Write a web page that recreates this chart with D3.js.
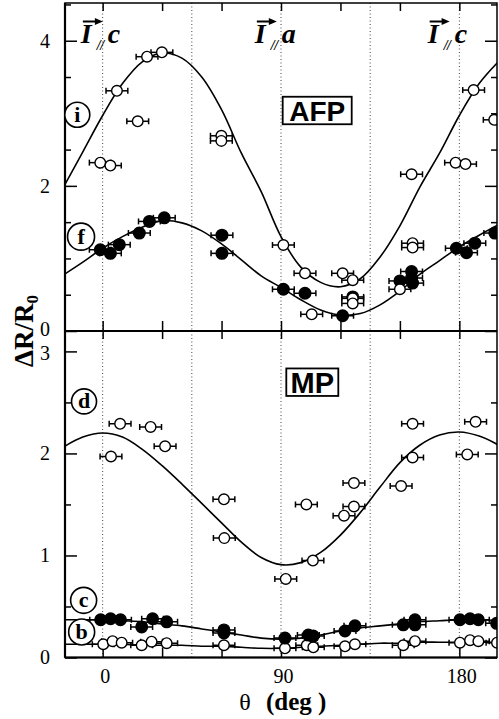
<!DOCTYPE html>
<html><head><meta charset="utf-8">
<script src="https://cdn.jsdelivr.net/npm/d3@7"></script>
<style>
html,body{margin:0;padding:0;background:#fff;}
svg{display:block;}
</style>
</head><body>
<svg id="chart" width="499" height="719"></svg>
<script>
// ---------------- data ----------------
// AFP panel, series (i) open circles
const iTheta = [22.4, 29.9, 7.2, 17.7, -1.2, 3.9, 59.9, 59.9, 187.2, 197.6, 178.1, 183.1, 155.9, 91.2, 156.4, 156.4, 102.1, 121.1, 126.2, 126.2, 126.2, 105.5, 150];
const iValue = [3.78, 3.84, 3.31, 2.89, 2.32, 2.28, 2.69, 2.62, 3.32, 2.91, 2.32, 2.30, 2.16, 1.185, 1.21, 1.15, 0.795, 0.795, 0.70, 0.45, 0.38, 0.23, 0.575];
// AFP panel, series (f) filled circles
const fTheta = [-1.2, 3.9, 8.4, 18.5, 23.6, 31.1, 60.2, 60.2, 91.2, 102.1, 121.1, 126.2, 150, 155.9, 155.9, 156.4, 178.5, 183.6, 187.8, 197.9];
const fValue = [1.12, 1.07, 1.19, 1.35, 1.51, 1.56, 1.32, 1.07, 0.575, 0.52, 0.21, 0.47, 0.69, 0.82, 0.73, 0.66, 1.14, 1.08, 1.21, 1.35];
// MP panel, series (d) open circles
const dTheta = [8.8, 4.2, 24.2, 31.5, 61.2, 61.4, 92.4, 106.1, 102.8, 126.8, 126.8, 121.8, 150.6, 156.4, 156.4, 184, 188.2];
const dValue = [2.29, 1.97, 2.26, 2.07, 1.55, 1.17, 0.77, 0.95, 1.50, 1.71, 1.48, 1.39, 1.68, 2.29, 1.96, 1.99, 2.31];
// MP panel, series (c) filled circles
const cTheta = [-1, 4, 9, 19.7, 25.2, 32.3, 61.2, 61.2, 92, 103.8, 106.3, 122.3, 127.3, 151.7, 157.6, 157.6, 180.3, 185.4, 189.6, 198.8];
const cValue = [0.37, 0.38, 0.37, 0.30, 0.38, 0.35, 0.27, 0.24, 0.19, 0.22, 0.21, 0.26, 0.31, 0.32, 0.37, 0.32, 0.37, 0.38, 0.37, 0.335];
// MP panel, series (b) open circles
const bTheta = [0.3, 5, 9.6, 19.7, 24.7, 32.3, 61.2, 92, 103, 106.3, 122.3, 127.3, 151.7, 157.6, 180.3, 185.4, 189.6, 199];
const bValue = [0.13, 0.16, 0.145, 0.12, 0.155, 0.14, 0.12, 0.09, 0.12, 0.10, 0.11, 0.13, 0.12, 0.16, 0.145, 0.17, 0.16, 0.145];
// angular error (half width, deg)
const thetaErr = 5.5;

// fitted curves
const curveTheta = [-20, -10, 0, 10, 20, 30, 40, 50, 60, 70, 80, 90, 100, 110, 120, 130, 140, 150, 160, 170, 180, 190, 200];
const iCurve = [1.97, 2.47, 2.97, 3.41, 3.71, 3.83, 3.76, 3.50, 3.05, 2.45, 1.92, 1.30, 0.88, 0.67, 0.61, 0.72, 1.02, 1.45, 1.98, 2.45, 2.97, 3.41, 3.72];
const fCurve = [0.77, 0.95, 1.14, 1.30, 1.43, 1.52, 1.49, 1.38, 1.20, 0.98, 0.76, 0.60, 0.43, 0.29, 0.22, 0.24, 0.36, 0.55, 0.78, 0.97, 1.16, 1.32, 1.47];
const dCurve = [2.06, 2.16, 2.20, 2.16, 2.04, 1.88, 1.70, 1.51, 1.32, 1.13, 0.98, 0.91, 0.93, 1.03, 1.20, 1.42, 1.67, 1.91, 2.08, 2.18, 2.21, 2.17, 2.08];
const cCurve = [0.37, 0.37, 0.37, 0.36, 0.35, 0.33, 0.31, 0.28, 0.25, 0.22, 0.19, 0.18, 0.19, 0.22, 0.26, 0.29, 0.31, 0.33, 0.35, 0.36, 0.37, 0.37, 0.36];
const bCurve = [0.13, 0.13, 0.13, 0.13, 0.12, 0.12, 0.12, 0.11, 0.11, 0.10, 0.09, 0.09, 0.10, 0.11, 0.12, 0.13, 0.14, 0.14, 0.15, 0.15, 0.15, 0.15, 0.15];

// ticks
const xTicks = [0, 30, 60, 90, 120, 150, 180];
const xLabelTicks = [0, 90, 180];
const dottedTheta = [0, 45, 90, 135, 180];
const topMajor = [0, 2, 4];
const topMinor = [0.5, 1, 1.5, 2.5, 3, 3.5, 4.5];
const botMajor = [0, 1, 2, 3];
const botMinor = [0.5, 1.5, 2.5];

// labels
const dirLabels = [{theta: -11.0, sub: "c"}, {theta: 76.8, sub: "a"}, {theta: 164.0, sub: "c"}];
const seriesTags = ["i", "f", "d", "c", "b"];

// ---------------- layout ----------------
const L = 65, R = 497, T = 3, M = 331, B = 657.5;
const svg = d3.select("#chart");
const x = d3.scaleLinear().domain([-19, 199]).range([L, R]);
const yTop = d3.scaleLinear().domain([0, 4.52]).range([M, T]);
const yBot = d3.scaleLinear().domain([0, 3.2]).range([B, M]);
const serif = "'Liberation Serif','Times New Roman',serif";
const sans = "'Liberation Sans',Arial,sans-serif";

const defs = svg.append("defs");
defs.append("clipPath").attr("id", "clipTop").append("rect").attr("x", L).attr("y", T).attr("width", R - L).attr("height", M - T);
defs.append("clipPath").attr("id", "clipBot").append("rect").attr("x", L).attr("y", M).attr("width", R - L).attr("height", B - M);

function panel(y, y0, y1, major, minor, labelFmt, labelShift) {
  const g = svg.append("g");
  g.selectAll("line.dot").data(dottedTheta).join("line")
    .attr("x1", d => x(d)).attr("x2", d => x(d)).attr("y1", y0).attr("y2", y1)
    .attr("stroke", "#444").attr("stroke-width", 1).attr("stroke-dasharray", "1,2.5");
  const la = g.append("g").attr("transform", `translate(${L},0)`)
    .call(d3.axisLeft(y).tickValues(major).tickSize(-12).tickPadding(15).tickFormat(labelFmt));
  la.select(".domain").remove();
  la.selectAll("text").attr("font-family", serif).attr("font-size", 20).attr("fill", "#000")
    .attr("transform", d => `translate(0,${labelShift(d)})`);
  la.selectAll("line").attr("stroke-width", 1.5);
  const lm = g.append("g").attr("transform", `translate(${L},0)`)
    .call(d3.axisLeft(y).tickValues(minor).tickSize(-6).tickFormat(""));
  lm.select(".domain").remove();
  lm.selectAll("line").attr("stroke-width", 1.5);
  const ra = g.append("g").attr("transform", `translate(${R},0)`)
    .call(d3.axisRight(y).tickValues(major).tickSize(-12).tickFormat(""));
  ra.select(".domain").remove();
  ra.selectAll("line").attr("stroke-width", 1.5);
  const rm = g.append("g").attr("transform", `translate(${R},0)`)
    .call(d3.axisRight(y).tickValues(minor).tickSize(-6).tickFormat(""));
  rm.select(".domain").remove();
  rm.selectAll("line").attr("stroke-width", 1.5);
  const ta = g.append("g").attr("transform", `translate(0,${y0})`)
    .call(d3.axisTop(x).tickValues(xTicks).tickSize(-8).tickFormat(""));
  ta.select(".domain").remove();
  ta.selectAll("line").attr("stroke-width", 1.5);
  const ba = g.append("g").attr("transform", `translate(0,${y1})`)
    .call(d3.axisBottom(x).tickValues(xTicks).tickSize(-10).tickFormat(""));
  ba.select(".domain").remove();
  ba.selectAll("line").attr("stroke-width", 1.5);
  return g;
}

const gTop = panel(yTop, T, M, topMajor, topMinor, d3.format("d"), d => d === 0 ? -2 : 0);
const gBot = panel(yBot, M, B, botMajor, botMinor, d3.format("d"), d => d === 3 ? 2 : 0);

// x labels
const xl = svg.append("g").attr("transform", `translate(0,${B})`)
  .call(d3.axisBottom(x).tickValues(xLabelTicks).tickSize(0).tickPadding(11).tickFormat(d3.format("d")));
xl.select(".domain").remove();
xl.selectAll("text").attr("font-family", serif).attr("font-size", 20).attr("fill", "#000").attr("dx", 2);

// curves
function drawCurve(g, y, vals, clipId) {
  const line = d3.line().x(d => x(d[0])).y(d => y(d[1])).curve(d3.curveCatmullRom.alpha(0.5));
  g.append("path").datum(curveTheta.map((t, k) => [t, vals[k]]))
    .attr("d", line).attr("fill", "none").attr("stroke", "#000").attr("stroke-width", 1.6)
    .attr("clip-path", `url(#${clipId})`);
}
drawCurve(gTop, yTop, iCurve, "clipTop");
drawCurve(gTop, yTop, fCurve, "clipTop");
drawCurve(gBot, yBot, dCurve, "clipBot");
drawCurve(gBot, yBot, cCurve, "clipBot");
drawCurve(gBot, yBot, bCurve, "clipBot");

// points with horizontal error bars
function drawPoints(g, y, th, vals, filled, clipId) {
  const data = th.map((t, k) => ({t, v: vals[k]}));
  const pg = g.append("g").attr("clip-path", `url(#${clipId})`);
  const eb = pg.selectAll("g.eb").data(data).join("g");
  eb.append("line").attr("x1", d => x(d.t - thetaErr)).attr("x2", d => x(d.t + thetaErr))
    .attr("y1", d => y(d.v)).attr("y2", d => y(d.v)).attr("stroke", "#000").attr("stroke-width", 1.5);
  eb.append("line").attr("x1", d => x(d.t - thetaErr)).attr("x2", d => x(d.t - thetaErr))
    .attr("y1", d => y(d.v) - 3).attr("y2", d => y(d.v) + 3).attr("stroke", "#000").attr("stroke-width", 1.5);
  eb.append("line").attr("x1", d => x(d.t + thetaErr)).attr("x2", d => x(d.t + thetaErr))
    .attr("y1", d => y(d.v) - 3).attr("y2", d => y(d.v) + 3).attr("stroke", "#000").attr("stroke-width", 1.5);
  pg.selectAll("circle").data(data).join("circle")
    .attr("cx", d => x(d.t)).attr("cy", d => y(d.v))
    .attr("r", filled ? 5.8 : 5.3)
    .attr("fill", filled ? "#000" : "#fff").attr("stroke", "#000").attr("stroke-width", 1.4);
}
drawPoints(gTop, yTop, fTheta, fValue, true, "clipTop");
drawPoints(gTop, yTop, iTheta, iValue, false, "clipTop");
drawPoints(gBot, yBot, dTheta, dValue, false, "clipBot");
drawPoints(gBot, yBot, bTheta, bValue, false, "clipBot");
drawPoints(gBot, yBot, cTheta, cValue, true, "clipBot");

// frame
svg.append("rect").attr("x", L).attr("y", T).attr("width", R - L).attr("height", B - T)
  .attr("fill", "none").attr("stroke", "#000").attr("stroke-width", 1.5);
svg.append("line").attr("x1", L).attr("x2", R).attr("y1", M).attr("y2", M).attr("stroke", "#000").attr("stroke-width", 2);
svg.append("line").attr("x1", L).attr("x2", L).attr("y1", T).attr("y2", B).attr("stroke", "#000").attr("stroke-width", 2.2);
svg.append("line").attr("x1", L).attr("x2", R).attr("y1", B).attr("y2", B).attr("stroke", "#000").attr("stroke-width", 2.2);

// circled series tags
const tagPos = [
  {p: "top", t: -12.8, v: 2.98, r: 12.5},
  {p: "top", t: -10.9, v: 1.30, r: 13.5},
  {p: "bot", t: -9.4, v: 2.51, r: 12.5},
  {p: "bot", t: -9.6, v: 0.56, r: 13},
  {p: "bot", t: -10.6, v: 0.25, r: 13}
];
seriesTags.forEach((s, k) => {
  const tp = tagPos[k];
  const yy = tp.p === "top" ? yTop(tp.v) : yBot(tp.v);
  svg.append("circle").attr("cx", x(tp.t)).attr("cy", yy).attr("r", tp.r)
    .attr("fill", "#fff").attr("stroke", "#000").attr("stroke-width", 1.6);
  svg.append("text").attr("x", x(tp.t)).attr("y", yy + 7).attr("text-anchor", "middle")
    .attr("font-family", serif).attr("font-weight", "bold").attr("font-size", 22).text(s);
});

// direction labels  I // c etc.
dirLabels.forEach(dl => {
  const x0 = x(dl.theta);
  const g = svg.append("g");
  g.append("text").attr("x", x0).attr("y", 43).attr("font-family", serif).attr("font-style", "italic")
    .attr("font-weight", "bold").attr("font-size", 28).text("I");
  g.append("line").attr("x1", x0 + 2).attr("x2", x0 + 17).attr("y1", 21.5).attr("y2", 21.5)
    .attr("stroke", "#000").attr("stroke-width", 2);
  g.append("path").attr("d", `M${x0 + 22},21.5 L${x0 + 14},18 L${x0 + 14},25 Z`).attr("fill", "#000");
  g.append("text").attr("x", x0 + 16).attr("y", 50).attr("font-family", serif).attr("font-style", "italic")
    .attr("font-weight", "bold").attr("font-size", 14).attr("letter-spacing", -0.5).text("//");
  g.append("text").attr("x", x0 + 27).attr("y", 43).attr("font-family", serif).attr("font-style", "italic")
    .attr("font-weight", "bold").attr("font-size", 28).text(dl.sub);
});

// boxed panel names
function boxLabel(cx, cy, w, h, txt, fs) {
  svg.append("rect").attr("x", cx - w / 2).attr("y", cy - h / 2).attr("width", w).attr("height", h)
    .attr("fill", "#fff").attr("stroke", "#000").attr("stroke-width", 1.8);
  svg.append("text").attr("x", cx).attr("y", cy + fs * 0.36).attr("text-anchor", "middle")
    .attr("font-family", sans).attr("font-weight", "bold").attr("font-size", fs).text(txt);
}
boxLabel(317.2, 110.5, 69, 27.5, "AFP", 28);
boxLabel(312.3, 382.2, 52, 27.5, "MP", 29);

// axis titles
const yl = svg.append("text").attr("transform", "translate(33,331) rotate(-90)")
  .attr("text-anchor", "middle").attr("font-family", serif).attr("font-weight", "bold").attr("font-size", 27);
yl.append("tspan").text("ΔR/R");
yl.append("tspan").attr("font-size", 17).attr("dy", 5).text("0");

svg.append("text").attr("x", 245).attr("y", 710).attr("text-anchor", "middle")
  .attr("font-family", serif).attr("font-size", 24).text("θ");
svg.append("text").attr("x", 266).attr("y", 710)
  .attr("font-family", serif).attr("font-weight", "bold").attr("font-size", 25).text("(deg )");
</script>
</body></html>
